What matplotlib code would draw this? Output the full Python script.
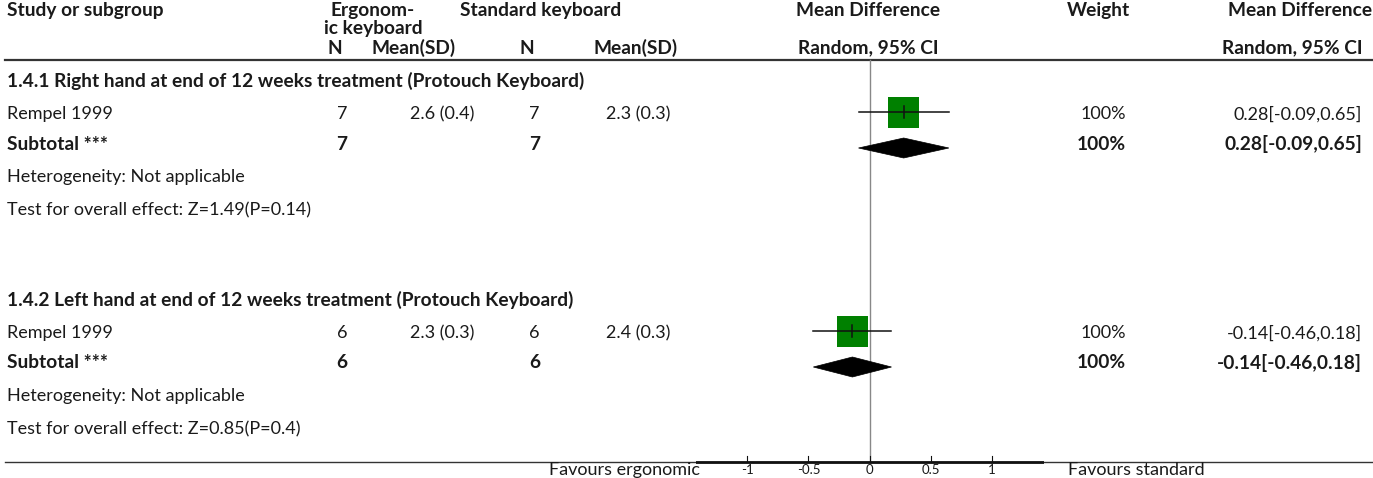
import matplotlib.pyplot as plt
from matplotlib.patches import Polygon, Rectangle

plt.rcParams['font.family'] = ['Lato', 'DejaVu Sans']

# data
groups = ["1.4.1 Right hand at end of 12 weeks treatment (Protouch Keyboard)",
          "1.4.2 Left hand at end of 12 weeks treatment (Protouch Keyboard)"]
study = ["Rempel 1999", "Rempel 1999"]
n_ergo = [7, 6]
mean_ergo = ["2.6 (0.4)", "2.3 (0.3)"]
n_std = [7, 6]
mean_std = ["2.3 (0.3)", "2.4 (0.3)"]
md = [0.28, -0.14]
ci_lo = [-0.09, -0.46]
ci_hi = [0.65, 0.18]
weights = ["100%", "100%"]
overall = ["Z=1.49(P=0.14)", "Z=0.85(P=0.4)"]
ticks = [-1, -0.5, 0, 0.5, 1]

W, H = 1373, 478
fig = plt.figure(figsize=(W / 100, H / 100), dpi=100)
ax = fig.add_axes([0, 0, 1, 1])
ax.set_xlim(0, W)
ax.set_ylim(H, 0)
ax.axis('off')

# forest panel: pixel span 695..1043 horizontally, same vertical pixels
x0, x1 = 695.5, 1043.5
fa = fig.add_axes([x0 / W, 0, (x1 - x0) / W, 1])
fa.set_xlim(-1.425, 1.425)
fa.set_ylim(H, 0)
fa.axis('off')

txt = '#1a1a1a'
bold = dict(fontsize=13.8, fontweight='bold', color=txt, va='center')
norm = dict(fontsize=13, color=txt, va='center')

# header
h1, h2, h3 = 10, 28, 48
ax.text(7, h1, "Study or subgroup", ha='left', **bold)
ax.text(373, h1, "Ergonom-", ha='center', **bold)
ax.text(373, h2, "ic keyboard", ha='center', **bold)
ax.text(541, h1, "Standard keyboard", ha='center', **bold)
ax.text(868, h1, "Mean Difference", ha='center', **bold)
ax.text(1098, h1, "Weight", ha='center', **bold)
ax.text(1300, h1, "Mean Difference", ha='center', **bold)
ax.text(335, h3, "N", ha='center', **bold)
ax.text(414, h3, "Mean(SD)", ha='center', **bold)
ax.text(527, h3, "N", ha='center', **bold)
ax.text(636, h3, "Mean(SD)", ha='center', **bold)
ax.text(868, h3, "Random, 95% CI", ha='center', **bold)
ax.text(1362, h3, "Random, 95% CI", ha='right', **bold)
ax.plot([5, W], [60, 60], color='#333333', lw=1.6)

# zero line
fa.plot([0, 0], [60, 462], color='#888888', lw=1)

tops = [81, 300]
for g in range(2):
    y = tops[g]
    ax.text(7, y, groups[g], ha='left', **bold)
    yr = y + 33
    ax.text(7, yr, study[g], ha='left', **norm)
    ax.text(347, yr, str(n_ergo[g]), ha='right', **norm)
    ax.text(474, yr, mean_ergo[g], ha='right', **norm)
    ax.text(540, yr, str(n_std[g]), ha='right', **norm)
    ax.text(670, yr, mean_std[g], ha='right', **norm)
    ax.text(1126, yr, weights[g], ha='right', **norm)
    ax.text(1362, yr, "%.2f[%.2f,%.2f]" % (md[g], ci_lo[g], ci_hi[g]), ha='right', **norm)
    ys = yr + 30
    ax.text(7, ys, "Subtotal ***", ha='left', **bold)
    ax.text(347, ys, str(n_ergo[g]), ha='right', **bold)
    ax.text(540, ys, str(n_std[g]), ha='right', **bold)
    ax.text(1126, ys, weights[g], ha='right', **bold)
    ax.text(1362, ys, "%.2f[%.2f,%.2f]" % (md[g], ci_lo[g], ci_hi[g]), ha='right', **bold)
    ax.text(7, ys + 33, "Heterogeneity: Not applicable", ha='left', **norm)
    ax.text(7, ys + 66, "Test for overall effect: " + overall[g], ha='left', **norm)

    # study square with CI
    yc = yr - 2
    half = 15.5 / 122
    fa.add_patch(Rectangle((md[g] - half, yc - 15.5), 2 * half, 31,
                           facecolor='#008000', edgecolor='none', zorder=2))
    fa.plot([ci_lo[g], ci_hi[g]], [yc, yc], color='#111111', lw=1.1, zorder=3)
    fa.plot([md[g], md[g]], [yc - 6, yc + 6], color='#111111', lw=1.1, zorder=3)
    # pooled diamond
    yd = ys + 4
    fa.add_patch(Polygon([(ci_lo[g], yd), (md[g], yd - 10), (ci_hi[g], yd), (md[g], yd + 10)],
                         closed=True, facecolor='black', edgecolor='black', lw=0.5, zorder=3))

# bottom axis
ax.plot([5, W], [462, 462], color='#333333', lw=1)
fa.plot([-1.425, 1.425], [462, 462], color='#111111', lw=2)
for t in ticks:
    fa.plot([t, t], [462, 456], color='#111111', lw=0.8)
    fa.text(t, 470, "%g" % t, ha='center', va='center', fontsize=9.5, color=txt)
ax.text(700, 470, "Favours ergonomic", ha='right', **norm)
ax.text(1068, 470, "Favours standard", ha='left', **norm)

fig.savefig('out.png', dpi=100)
